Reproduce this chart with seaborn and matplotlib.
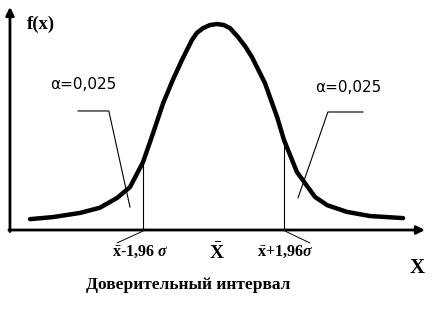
import matplotlib
matplotlib.use("Agg")
import matplotlib.pyplot as plt
import seaborn as sns
import pandas as pd

# ---- data (x in sigma units from the mean, f = density height) ----
curve_z = [-5.10, -4.46, -3.71, -3.16, -2.68, -2.32, -1.96, -1.68, -1.40, -1.13,
           -0.88, -0.60, -0.46, -0.29, -0.10, 0.10, 0.29, 0.46, 0.68, 0.88, 1.07,
           1.43, 1.77, 1.96, 2.32, 2.54, 2.82, 3.16, 3.71, 4.35, 5.27]
curve_f = [0.021, 0.025, 0.033, 0.043, 0.062, 0.083, 0.131, 0.187, 0.245, 0.290,
           0.328, 0.367, 0.381, 0.390, 0.396, 0.398, 0.396, 0.390, 0.373, 0.355, 0.334,
           0.284, 0.218, 0.174, 0.112, 0.091, 0.064, 0.048, 0.035, 0.027, 0.023]
ci_bounds = [-1.96, 1.96]
ci_heights = [0.131, 0.174]
alpha_label = "α=0,025"
bound_labels = [r"$\bar{\rm x}$-1,96 $\sigma$", r"$\bar{\rm x}$+1,96$\sigma$"]
mean_label = r"$\bar{\rm X}$"
y_label = "f(x)"
x_label = "X"
ci_caption = "Доверительный интервал"

sns.set_theme(style="white")
plt.rcParams["font.family"] = ["DejaVu Sans"]
plt.rcParams["text.color"] = "black"
plt.rcParams["mathtext.fontset"] = "custom"
plt.rcParams["mathtext.rm"] = "Liberation Serif:bold"
plt.rcParams["mathtext.it"] = "Liberation Serif:italic:bold"
plt.rcParams["mathtext.bf"] = "Liberation Serif:bold"

fig = plt.figure(figsize=(4.32, 3.24), dpi=100)
ax = fig.add_axes([0, 0, 1, 1])
ax.set_xlim(-5.935, 6.075)
ax.set_ylim(-0.1816, 0.4444)
ax.axis("off")

df = pd.DataFrame({"z": curve_z, "f": curve_f})
sns.lineplot(data=df, x="z", y="f", ax=ax, color="black", lw=3.2, sort=False,
             solid_joinstyle="round", solid_capstyle="round")

# axes with arrows
x0 = -5.658
ax.annotate("", xy=(x0, 0.431), xytext=(x0, -0.003),
            arrowprops=dict(arrowstyle="-|>", lw=2.0, color="black", mutation_scale=12,
                            shrinkA=0, shrinkB=0))
ax.annotate("", xy=(5.88, 0.0), xytext=(x0 - 0.03, 0.0),
            arrowprops=dict(arrowstyle="-|>", lw=2.0, color="black", mutation_scale=12,
                            shrinkA=0, shrinkB=0))

# confidence bounds
for b, h in zip(ci_bounds, ci_heights):
    ax.plot([b, b], [0, h], color="black", lw=0.8)

# leader lines for alpha labels
ax.plot([-3.77, -2.91, -2.32], [0.230, 0.230, 0.044], color="black", lw=0.8)
ax.plot([4.16, 3.18, 2.35], [0.228, 0.228, 0.062], color="black", lw=0.8)
# small leaders below axis
ax.plot([-1.96, -2.68], [-0.002, -0.025], color="black", lw=0.7)
ax.plot([1.99, 2.68], [-0.002, -0.025], color="black", lw=0.7)

ax.text(-3.63, 0.2808, alpha_label, fontsize=11, color="black", ha="center", va="center")
ax.text(3.74, 0.2750, alpha_label, fontsize=11, color="black", ha="center", va="center")

ax.text(-4.80, 0.3980, y_label, fontsize=13.5, fontweight="bold", color="black",
        family="Liberation Serif", ha="center", va="center")
ax.text(5.66, -0.0730, x_label, fontsize=15, fontweight="bold", color="black",
        family="Liberation Serif", ha="center", va="center")

ax.text(-2.04, -0.0425, bound_labels[0], fontsize=11.5, fontweight="bold", color="black",
        family="Liberation Serif", ha="center", va="center")
ax.text(1.99, -0.0425, bound_labels[1], fontsize=11.5, fontweight="bold", color="black",
        family="Liberation Serif", ha="center", va="center")
ax.text(0.10, -0.0445, mean_label, fontsize=14, fontweight="bold", color="black",
        family="Liberation Serif", ha="center", va="center")

ax.text(-0.70, -0.1063, ci_caption, fontsize=12.5, fontweight="bold", color="black",
        family="Liberation Serif", ha="center", va="center")

fig.savefig("out.png", dpi=100)
